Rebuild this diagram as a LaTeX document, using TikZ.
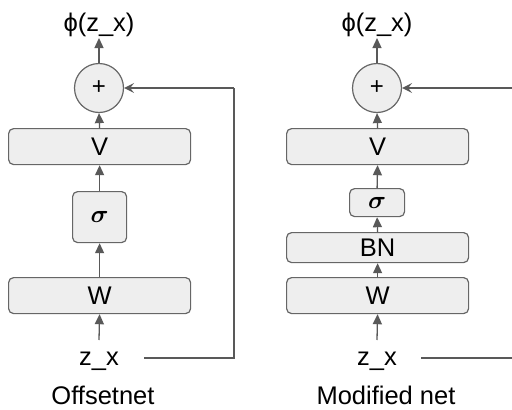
\documentclass[tikz,border=0pt]{standalone}
\usepackage{fontspec}
\setmainfont{Liberation Sans}
\usepackage{amsmath}
\usepackage{bm}
\usetikzlibrary{arrows.meta}
\definecolor{boxfill}{HTML}{EEEEEE}
\definecolor{edge}{HTML}{666666}
\definecolor{arr}{HTML}{595959}
\begin{document}
\begin{tikzpicture}[x=1pt,y=-1pt,
  every node/.style={font=\fontsize{25.5}{30}\selectfont},
  layer/.style={draw=edge,fill=boxfill,line width=1.2pt,rounded corners=5pt,inner sep=0pt,anchor=north west},
  sumnode/.style={draw=edge,fill=boxfill,line width=1.2pt,circle,minimum size=49pt,inner sep=0pt},
  flow/.style={draw=arr,line width=1.3pt,-{Triangle[length=10pt,width=9pt]}},
  skip/.style={draw=arr,line width=1.3pt,-{Stealth[length=10pt,width=10pt,inset=4pt]}},
  plain/.style={draw=arr,line width=1.3pt}]
\useasboundingbox (0,0) rectangle (512,410);
% ---- Offsetnet ----
\node[layer,minimum width=182pt,minimum height=36pt] (W1) at (8,277) {};
\node at (W1.center) {W};
\node[layer,minimum width=54pt,minimum height=51pt] (S1) at (72,191) {};
\node at (S1.center) {\fontsize{30}{30}\selectfont$\bm{\sigma}$};
\node[layer,minimum width=182pt,minimum height=36pt] (V1) at (8,128) {};
\node at (V1.center) {V};
\node[sumnode] (P1) at (99,88) {\fontsize{24}{24}\selectfont +};
\node (O1) at (99,25) {ϕ(z\_x)};
\node (Z1) at (99,361) {z\_x};
\node (L1) at (103,395) {Offsetnet};
\coordinate (C1) at (234,358);
\coordinate (D1) at (234,88);
\draw[flow] (99,340) -- (W1.south);
\draw[flow] (W1.north) -- (S1.south);
\draw[flow] (S1.north) -- (V1.south);
\draw[flow] (V1.north) -- (P1.south);
\draw[flow] (P1.north) -- (99,38);
\draw[plain] (144,358) -- (C1) -- (D1);
\draw[skip] (D1) -- (P1.east);
% ---- Modified net ----
\node[layer,minimum width=182pt,minimum height=36pt] (W2) at (286,277) {};
\node at (W2.center) {W};
\node[layer,minimum width=182pt,minimum height=30pt] (B2) at (286,232) {};
\node at (B2.center) {BN};
\node[layer,minimum width=55pt,minimum height=28pt] (S2) at (349,188) {};
\node at (S2.center) {\fontsize{30}{30}\selectfont$\bm{\sigma}$};
\node[layer,minimum width=182pt,minimum height=36pt] (V2) at (286,128) {};
\node at (V2.center) {V};
\node[sumnode] (P2) at (377,88) {\fontsize{24}{24}\selectfont +};
\node (O2) at (377,25) {ϕ(z\_x)};
\node (Z2) at (377,361) {z\_x};
\node (L2) at (386,395) {Modified net};
\coordinate (C2) at (512,358);
\coordinate (D2) at (512,88);
\draw[flow] (377,340) -- (W2.south);
\draw[flow] (W2.north) -- (B2.south);
\draw[flow] (B2.north) -- (S2.south);
\draw[flow] (S2.north) -- (V2.south);
\draw[flow] (V2.north) -- (P2.south);
\draw[flow] (P2.north) -- (377,38);
\draw[plain] (421,358) -- (C2);
\draw[skip] (D2) -- (P2.east);
\end{tikzpicture}
\end{document}
